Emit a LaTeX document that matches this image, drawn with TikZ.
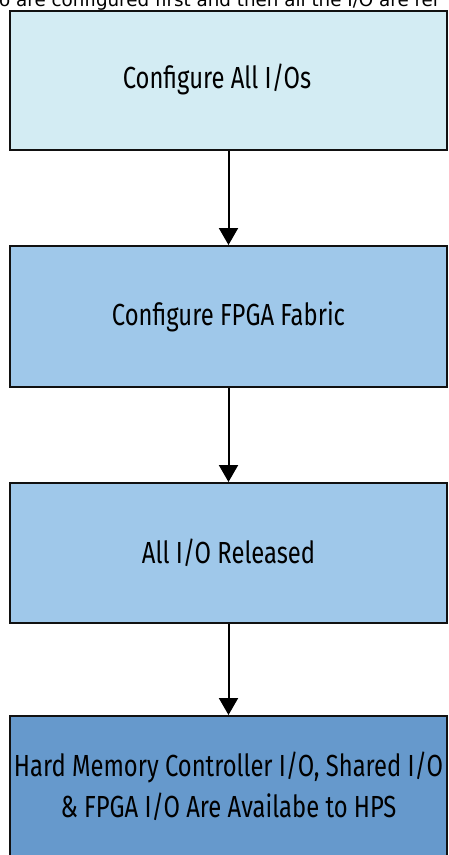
\documentclass[tikz,border=0pt]{standalone}
\usepackage{fontspec}
\setmainfont{Fira Sans}[FakeStretch=0.78]
\newfontfamily\capfont{DejaVu Sans}
\usetikzlibrary{arrows.meta}
\definecolor{boxA}{HTML}{D3ECF3}
\definecolor{boxB}{HTML}{9FC8EA}
\definecolor{boxC}{HTML}{6699CC}
\definecolor{edgec}{HTML}{111111}
\tikzset{
  stepbox/.style={draw=edgec, line width=2pt, minimum width=437pt, inner sep=0pt, align=center, font=\fontsize{30.5}{41}\selectfont},
  steptext/.style={inner sep=0pt, align=center, font=\fontsize{30.5}{41}\selectfont},
  flow/.style={line width=2pt, draw=black, -{Triangle[length=17pt,width=19pt]}}
}
\begin{document}
\begin{tikzpicture}[x=1pt,y=-1pt]
\useasboundingbox (0,0) rectangle (449,855);
\clip (0,0) rectangle (449,855);
\node[anchor=base west, inner sep=0pt, font=\capfont\fontsize{18.3}{20}\selectfont] (cap) at (-1,6.5) {o are configured first and then all the I/O are rel};
\node[stepbox, fill=boxA, minimum height=139pt] (a) at (228.5,80.5) {};
\node[steptext] (at) at (217,79) {Configure All I/Os};
\node[stepbox, fill=boxB, minimum height=141pt] (b) at (228.5,316.5) {Configure FPGA Fabric};
\node[stepbox, fill=boxB, minimum height=140pt] (c) at (228.5,553) {All I/O Released};
\node[stepbox, fill=boxC, minimum height=140pt] (d) at (228.5,786) {Hard Memory Controller I/O, Shared I/O\\\& FPGA I/O Are Availabe to HPS};
\draw[flow] (a) -- (b);
\draw[flow] (b) -- (c);
\draw[flow] (c) -- (d);
\end{tikzpicture}
\end{document}
